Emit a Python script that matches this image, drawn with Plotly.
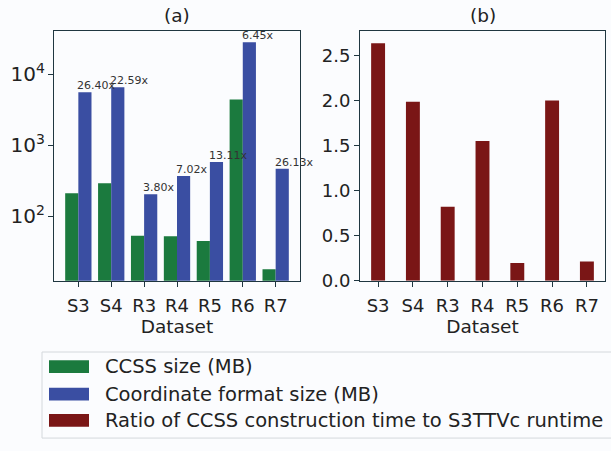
import math
import plotly.graph_objects as go

# Dataset categories and measured values
datasets = ["S3", "S4", "R3", "R4", "R5", "R6", "R7"]
ccss_size_mb = [210, 290, 53, 52, 44.5, 4400, 17.8]
coord_size_mb = [5590, 6550, 203, 368, 580, 28250, 464]
size_ratio_labels = ["26.40x", "22.59x", "3.80x", "7.02x", "13.11x", "6.45x", "26.13x"]
construction_ratio = [2.634, 1.983, 0.819, 1.549, 0.195, 1.997, 0.212]

legend_names = [
    "CCSS size (MB)",
    "Coordinate format size (MB)",
    "Ratio of CCSS construction time to S3TTVc runtime",
]

GREEN = "#1b7a3e"
BLUE = "#3a4ea2"
DARKRED = "#7a1616"
AXIS = "#1f3640"
TEXT = "#222222"
FONT = "DejaVu Sans"
BG = "#fbfcfe"

W, H = 611, 451
LOG_RANGE = [1.09, 4.607]


def px(x):
    return x / W


def py(y):
    return 1 - y / H


idx = list(range(len(datasets)))

fig = go.Figure()

# (a) storage sizes on a log scale, paired bars per dataset
fig.add_trace(go.Bar(x=idx, y=ccss_size_mb, offset=-0.4, width=0.4,
                     marker=dict(color=GREEN, line=dict(width=0)),
                     name=legend_names[0], showlegend=False,
                     xaxis="x", yaxis="y"))
fig.add_trace(go.Bar(x=idx, y=coord_size_mb, offset=0.0, width=0.4,
                     marker=dict(color=BLUE, line=dict(width=0)),
                     name=legend_names[1], showlegend=False,
                     xaxis="x", yaxis="y"))

# (b) construction-time ratio
fig.add_trace(go.Bar(x=idx, y=construction_ratio, width=0.4,
                     marker=dict(color=DARKRED, line=dict(width=0)),
                     name=legend_names[2], showlegend=False,
                     xaxis="x2", yaxis="y2"))

axis_common = dict(
    showline=True, linecolor=AXIS, linewidth=1, mirror=True,
    ticks="outside", ticklen=5, tickcolor=AXIS, tickwidth=1,
    showgrid=False, zeroline=False,
)
tick_font = dict(family=FONT, size=18, color=TEXT)
title_font = dict(family=FONT, size=18.5, color=TEXT)

fig.update_layout(
    width=W, height=H,
    margin=dict(l=0, r=0, t=0, b=0),
    paper_bgcolor=BG, plot_bgcolor=BG,
    barmode="overlay",
    showlegend=False,
    font=dict(family=FONT, color=TEXT),
    xaxis=dict(domain=[px(54), px(300)], range=[-0.74, 6.74],
               tickmode="array", tickvals=idx, ticktext=datasets,
               ticklabelstandoff=4, tickfont=tick_font,
               title=dict(text="Dataset", font=title_font, standoff=2),
               **axis_common),
    yaxis=dict(domain=[py(287), py(32)], type="log", range=LOG_RANGE,
               tickmode="linear", tick0=0, dtick=1, exponentformat="power",
               tickfont=dict(family=FONT, size=16, color=TEXT),
               **axis_common),
    xaxis2=dict(domain=[px(360), px(605)], range=[-0.52, 6.52], anchor="y2",
                tickmode="array", tickvals=idx, ticktext=datasets,
                ticklabelstandoff=4, tickfont=tick_font,
                title=dict(text="Dataset", font=title_font, standoff=2),
                **axis_common),
    yaxis2=dict(domain=[py(287), py(32)], range=[0, 2.766], anchor="x2",
                tickmode="array", tickvals=[0, 0.5, 1.0, 1.5, 2.0, 2.5],
                ticktext=["0.0", "0.5", "1.0", "1.5", "2.0", "2.5"],
                tickfont=tick_font,
                **axis_common),
)

annotations = []
# ratio labels sit on top of each coordinate-format bar
for i, (val, lab) in enumerate(zip(coord_size_mb, size_ratio_labels)):
    annotations.append(dict(x=i, y=math.log10(val), xref="x", yref="y",
                            text=lab, showarrow=False, xanchor="left", yanchor="bottom",
                            xshift=-3, yshift=-2,
                            font=dict(family=FONT, size=11, color="#333333")))

# panel titles
annotations.append(dict(x=px(177), y=py(16), xref="paper", yref="paper", text="(a)",
                        showarrow=False, xanchor="center", yanchor="middle",
                        font=title_font))
annotations.append(dict(x=px(482.5), y=py(16), xref="paper", yref="paper", text="(b)",
                        showarrow=False, xanchor="center", yanchor="middle",
                        font=title_font))

shapes = []

# minor ticks of the log axis (2..9 within each decade)
for dec in range(0, 5):
    for m in range(2, 10):
        lv = math.log10(m * 10 ** dec)
        if LOG_RANGE[0] < lv < LOG_RANGE[1]:
            shapes.append(dict(type="line", xref="x domain", yref="y",
                               xsizemode="pixel", xanchor=0, x0=-3, x1=0,
                               y0=lv, y1=lv,
                               line=dict(color=AXIS, width=1)))

# shared legend below the panels
shapes.append(dict(type="rect", xref="paper", yref="paper",
                   x0=px(42), x1=px(640), y0=py(448), y1=py(360),
                   line=dict(color="#d4d8dc", width=1), fillcolor=BG, layer="below"))
legend_colors = [GREEN, BLUE, DARKRED]
row_y = [375, 403, 430]
for name, col, yc in zip(legend_names, legend_colors, row_y):
    shapes.append(dict(type="rect", xref="paper", yref="paper",
                       x0=px(49), x1=px(89), y0=py(yc + 6.5), y1=py(yc - 6.5),
                       line=dict(width=0), fillcolor=col))
    annotations.append(dict(x=px(103), y=py(yc), xref="paper", yref="paper", text=name,
                            showarrow=False, xanchor="left", yanchor="middle",
                            font=dict(family=FONT, size=19.5, color=TEXT)))

fig.update_layout(annotations=annotations, shapes=shapes)

fig.write_html("out.html")
